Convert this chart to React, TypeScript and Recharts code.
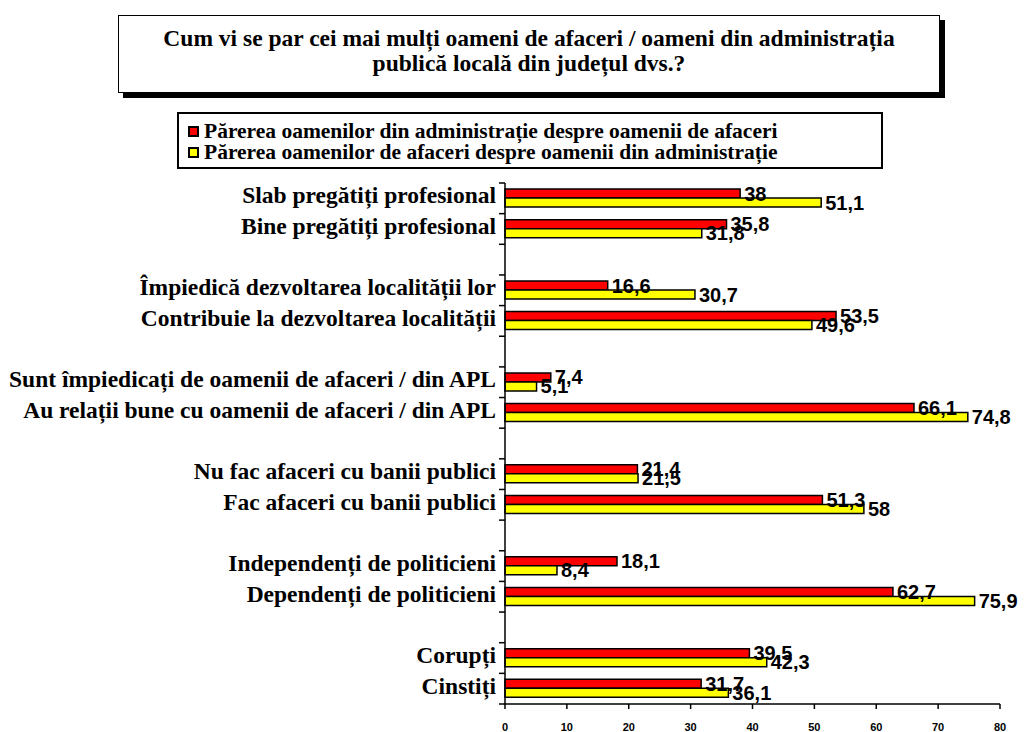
import React from 'react';
import { BarChart, Bar, XAxis, YAxis, LabelList } from 'recharts';

const categories = [
  'Slab pregătiți profesional',
  'Bine pregătiți profesional',
  '',
  'Împiedică dezvoltarea localității lor',
  'Contribuie la dezvoltarea localității',
  '',
  'Sunt împiedicați de oamenii de afaceri / din APL',
  'Au relații bune cu oamenii de afaceri / din APL',
  '',
  'Nu fac afaceri cu banii publici',
  'Fac afaceri cu banii publici',
  '',
  'Independenți de politicieni',
  'Dependenți de politicieni',
  '',
  'Corupți',
  'Cinstiți',
];

const adminView = [38, 35.8, null, 16.6, 53.5, null, 7.4, 66.1, null, 21.4, 51.3, null, 18.1, 62.7, null, 39.5, 31.7];
const businessView = [51.1, 31.8, null, 30.7, 49.6, null, 5.1, 74.8, null, 21.5, 58, null, 8.4, 75.9, null, 42.3, 36.1];

const xTicks = [0, 10, 20, 30, 40, 50, 60, 70, 80];

const seriesNames = [
  'Părerea oamenilor din administrație despre oamenii de afaceri',
  'Părerea oamenilor de afaceri despre oamenii din administrație',
];
const titleLines = [
  'Cum vi se par cei mai mulți oameni de afaceri / oameni din administrația',
  'publică locală din județul dvs.?',
];

const data = categories.map((c, i) => ({ id: 'r' + i, name: c, admin: adminView[i], business: businessView[i] }));

const W = 1025;
const H = 732;
const TOP = 183;
const BOTTOM = 704;
const LEFT = 505;
const RIGHT = 1000;
const STEP = (BOTTOM - TOP) / categories.length;

const SERIF = '"Liberation Serif", "Times New Roman", serif';
const SANS = '"Liberation Sans", Arial, sans-serif';

const fmt = (v: any) => (v === null || v === undefined ? '' : String(v).replace('.', ','));

const YTick = (props: any) => {
  const { y, index } = props;
  const label = categories[index] ?? '';
  return (
    <g>
      <line x1={LEFT - 6} x2={LEFT} y1={y - STEP / 2} y2={y - STEP / 2} stroke="#000" strokeWidth={1.5} />
      {index === categories.length - 1 && (
        <line x1={LEFT - 6} x2={LEFT} y1={y + STEP / 2} y2={y + STEP / 2} stroke="#000" strokeWidth={1.5} />
      )}
      <text x={LEFT - 9} y={y - 3} textAnchor="end" dominantBaseline="central" fontFamily={SERIF} fontWeight="bold" fontSize={23.5} fill="#000">
        {label}
      </text>
    </g>
  );
};

export default function App() {
  return (
    <div style={{ position: 'absolute', left: 0, top: 0, width: W, height: H, background: '#fff' }}>
      <div
        style={{
          position: 'absolute', left: 118, top: 15, width: 822, height: 78, boxSizing: 'border-box',
          border: '1.5px solid #000', boxShadow: '5px 5px 0 #000', background: '#fff', paddingBottom: 6,
          display: 'flex', flexDirection: 'column', justifyContent: 'center', alignItems: 'center',
          fontFamily: SERIF, fontWeight: 'bold', fontSize: 23.5, lineHeight: '25px', color: '#000',
        }}
      >
        {titleLines.map((t, i) => (
          <div key={i} style={{ whiteSpace: 'nowrap' }}>{t}</div>
        ))}
      </div>
      <div
        style={{
          position: 'absolute', left: 177, top: 112, width: 706, height: 57, boxSizing: 'border-box',
          border: '2px solid #000', background: '#fff', paddingLeft: 9, paddingTop: 7,
          fontFamily: SERIF, fontWeight: 'bold', fontSize: 21.5, lineHeight: '21px', color: '#000',
        }}
      >
        {seriesNames.map((s, i) => (
          <div key={i} style={{ display: 'flex', alignItems: 'center', whiteSpace: 'nowrap' }}>
            <span
              style={{
                display: 'inline-block', width: 11, height: 11, boxSizing: 'border-box', flex: 'none',
                border: '2px solid #000', background: i === 0 ? '#FF0000' : '#FFFF00', marginRight: 5,
              }}
            />
            <span>{s}</span>
          </div>
        ))}
      </div>
      <div style={{ position: 'absolute', left: 0, top: 0 }}>
        <BarChart
          width={W}
          height={H}
          data={data}
          layout="vertical"
          barGap={0}
          barSize={9}
          margin={{ top: TOP, right: W - RIGHT, bottom: 0, left: 0 }}
        >
          <XAxis
            type="number"
            domain={[0, 80]}
            ticks={xTicks}
            height={H - BOTTOM}
            axisLine={{ stroke: '#000', strokeWidth: 1.5 }}
            tickLine={{ stroke: '#000', strokeWidth: 1.5 }}
            tickSize={5}
            tickMargin={14}
            tick={{ fontFamily: SANS, fontWeight: 'bold', fontSize: 11, fill: '#000' }}
          />
          <YAxis
            type="category"
            dataKey="id"
            width={LEFT}
            interval={0}
            axisLine={{ stroke: '#000', strokeWidth: 1.5 }}
            tickLine={false}
            tick={<YTick />}
          />
          <Bar dataKey="admin" fill="#FF0000" stroke="#000" strokeWidth={1.5} isAnimationActive={false}>
            <LabelList dataKey="admin" position="right" offset={4} formatter={fmt} fontFamily={SANS} fontWeight="bold" fontSize={20} fill="#000" />
          </Bar>
          <Bar dataKey="business" fill="#FFFF00" stroke="#000" strokeWidth={1.5} isAnimationActive={false}>
            <LabelList dataKey="business" position="right" offset={4} formatter={fmt} fontFamily={SANS} fontWeight="bold" fontSize={20} fill="#000" />
          </Bar>
        </BarChart>
      </div>
    </div>
  );
}
